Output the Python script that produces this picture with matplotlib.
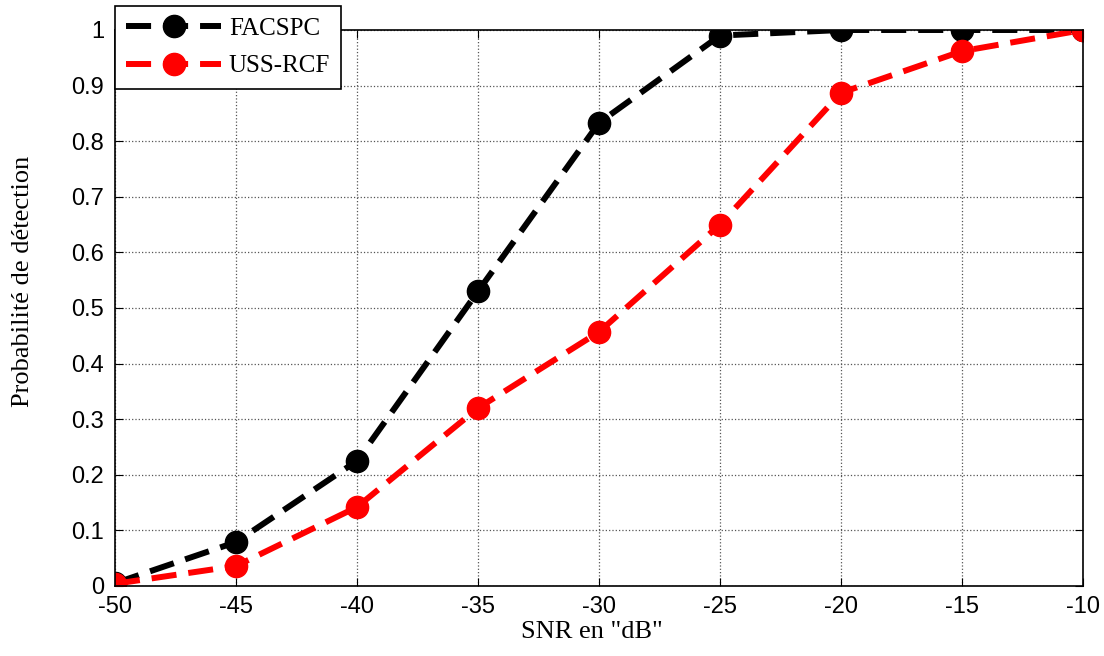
import numpy as np
import matplotlib.pyplot as plt

plt.rcParams['axes.unicode_minus'] = False

snr = [-50, -45, -40, -35, -30, -25, -20, -15, -10]
facspc = [0.005, 0.079, 0.225, 0.53, 0.833, 0.99, 1.0, 1.0, 1.0]
uss_rcf = [0.004, 0.036, 0.142, 0.32, 0.457, 0.65, 0.887, 0.962, 1.0]

fig = plt.figure(figsize=(11.04, 6.56), dpi=100)
ax = fig.add_axes([115/1104, 1 - 586/656, (1083-115)/1104, (586-30)/656])

ax.plot(snr, facspc, color='black', lw=4.3, ls=(0, (4.2, 2)), marker='o',
        ms=16, mfc='black', mec='black', label='FACSPC')
ax.plot(snr, uss_rcf, color='red', lw=4.3, ls=(0, (4.2, 2)), marker='o',
        ms=16, mfc='red', mec='red', label='USS-RCF')

ax.set_xlim(-50, -10)
ax.set_ylim(0, 1)
ax.set_xticks(np.arange(-50, -9, 5))
ax.set_yticks(np.arange(0, 1.01, 0.1))
ax.set_yticklabels(['0', '0.1', '0.2', '0.3', '0.4', '0.5', '0.6', '0.7', '0.8', '0.9', '1'])
ax.tick_params(direction='in', labelsize=17, top=True, right=True, length=6)
ax.tick_params(axis='x', pad=7)
ax.tick_params(axis='y', pad=8)
for lab in ax.get_xticklabels() + ax.get_yticklabels():
    lab.set_family('Liberation Sans')
ax.grid(True, ls=':', color='#555555', lw=0.9)
for s in ax.spines.values():
    s.set_linewidth(1.2)

ax.set_xlabel('SNR en "dB"', family='Liberation Serif', fontsize=19, labelpad=2,
              x=0.493)
ax.set_ylabel('Probabilité de détection', family='Liberation Serif', fontsize=19,
              labelpad=27, y=0.547)

leg = ax.legend(loc='upper left', bbox_to_anchor=(0.0, 1.043), fancybox=False,
                edgecolor='black', framealpha=1, borderaxespad=0,
                prop={'family': 'Liberation Serif', 'size': 18}, handlelength=3.8,
                labelspacing=0.6, handletextpad=0.3, borderpad=0.45)
leg.get_frame().set_linewidth(1.2)

fig.savefig('out.png', dpi=100)
